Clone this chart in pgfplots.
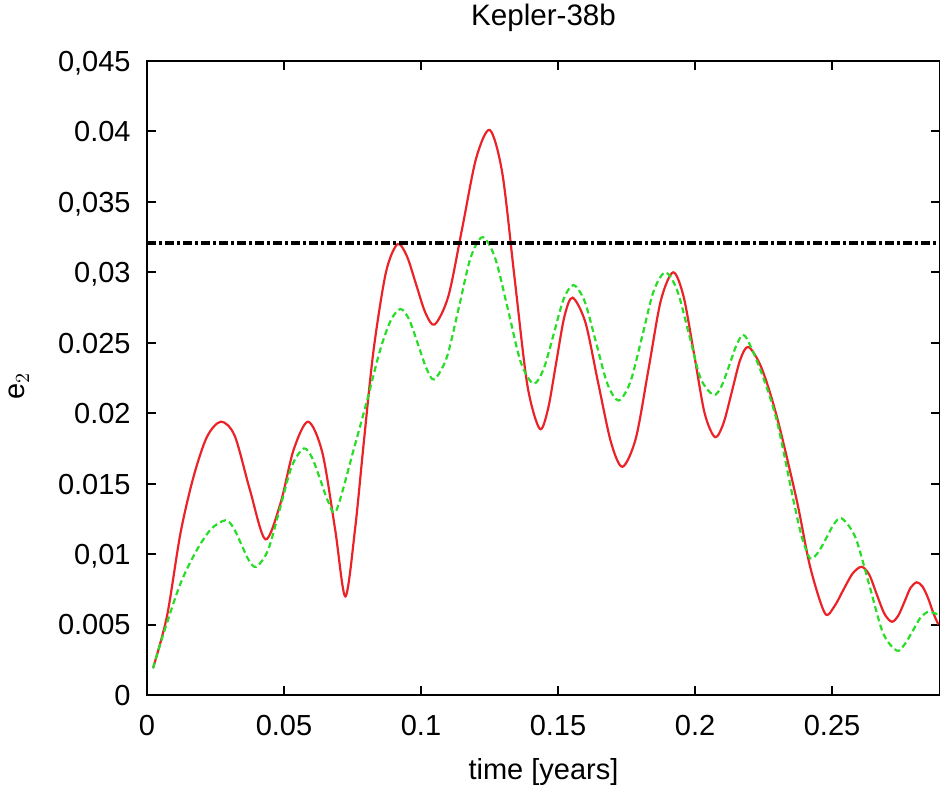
\documentclass[border=0pt]{standalone}
\usepackage{pgfplots}
\pgfplotsset{compat=1.18}
\usepackage{fontspec}
\setmainfont{Liberation Sans}
\definecolor{gred}{RGB}{235,35,40}
\definecolor{ggreen}{RGB}{40,220,40}
\pgfplotstableread{
x y
0.0022 0.0019
0.0073 0.0056
0.0122 0.01147
0.0170 0.0155
0.0219 0.01833
0.0270 0.0194
0.0320 0.0184
0.0375 0.0146
0.0432 0.01105
0.0487 0.0136
0.0535 0.0174
0.0588 0.0194
0.0640 0.0172
0.0687 0.0117
0.0724 0.0070
0.0760 0.0119
0.0791 0.0179
0.0827 0.0245
0.0872 0.0300
0.0914 0.0320
0.0948 0.03117
0.0982 0.02915
0.1016 0.02713
0.1050 0.0263
0.1100 0.02832
0.1151 0.0332
0.1201 0.03808
0.1251 0.0401
0.1297 0.0370
0.1342 0.0295
0.1388 0.0220
0.1433 0.0189
0.1463 0.02026
0.1493 0.02355
0.1523 0.02684
0.1553 0.0282
0.1600 0.02644
0.1646 0.0222
0.1693 0.01796
0.1735 0.0162
0.1784 0.01822
0.1830 0.0231
0.1875 0.02798
0.1920 0.0300
0.1958 0.0283
0.1997 0.02415
0.2035 0.0200
0.2073 0.0183
0.2104 0.0193
0.2134 0.0215
0.2165 0.0238
0.2195 0.0247
0.2243 0.0232
0.2298 0.0198
0.2371 0.01384
0.2420 0.0091
0.2474 0.0058
0.2508 0.00628
0.2541 0.00745
0.2575 0.00862
0.2608 0.0091
0.2636 0.00853
0.2663 0.00715
0.2691 0.00577
0.2718 0.0052
0.2741 0.00561
0.2764 0.0066
0.2786 0.00759
0.2809 0.0080
0.2830 0.0077
0.2850 0.0069
0.2870 0.0058
0.2888 0.0050
}\redtab
\pgfplotstableread{
x y
0.0022 0.0019
0.0061 0.0044
0.0122 0.0079
0.0182 0.0103
0.0235 0.0118
0.0286 0.0124
0.0314 0.01192
0.0343 0.01075
0.0371 0.00958
0.0399 0.0091
0.0442 0.0103
0.0486 0.0133
0.0529 0.01627
0.0572 0.0175
0.0602 0.01686
0.0632 0.0153
0.0661 0.01374
0.0691 0.0131
0.0754 0.0174
0.0803 0.0209
0.0851 0.0245
0.0890 0.0266
0.0925 0.0274
0.0956 0.02668
0.0988 0.02495
0.1019 0.02322
0.1048 0.0224
0.1094 0.02396
0.1138 0.0275
0.1181 0.03104
0.1225 0.0325
0.1271 0.03098
0.1318 0.0273
0.1364 0.02362
0.1410 0.0221
0.1447 0.02312
0.1484 0.0256
0.1520 0.02808
0.1557 0.0291
0.1598 0.0279
0.1639 0.0250
0.1680 0.0221
0.1721 0.0209
0.1764 0.02223
0.1807 0.02545
0.1849 0.02867
0.1892 0.0300
0.1935 0.02871
0.1978 0.0256
0.2020 0.02249
0.2067 0.0213
0.2096 0.0219
0.2125 0.0234
0.2153 0.0249
0.2182 0.0255
0.2240 0.0230
0.2298 0.0195
0.2359 0.01384
0.2390 0.0112
0.2420 0.0097
0.2449 0.01012
0.2478 0.0111
0.2506 0.0121
0.2535 0.01254
0.2585 0.0112
0.2636 0.0078
0.2686 0.0044
0.2736 0.00315
0.2765 0.0036
0.2794 0.00453
0.2823 0.0055
0.2852 0.0059
0.2888 0.0057
}\greentab
\begin{document}
\begin{tikzpicture}
\useasboundingbox (-73.5pt,-48.5pt) rectangle (396.5pt,347.5pt);
\begin{axis}[
  at={(0,0)}, anchor=south west,
  scale only axis, width=396.5pt, height=317pt,
  xmin=0, xmax=0.2894, ymin=0, ymax=0.045,
  axis line style={line width=1.2pt},
  every tick/.style={black, line width=1pt},
  tick align=inside, major tick length=4.5pt,
  xtick={0,0.05,0.1,0.15,0.2,0.25},
  xticklabels={0,0.05,0.1,0.15,0.2,0.25},
  ytick={0,0.005,0.01,0.015,0.02,0.025,0.03,0.035,0.04,0.045},
  yticklabels={0,0.005,{0,01},0.015,0.02,0.025,{0,03},{0,035},0.04,{0,045}},
  scaled ticks=false,
  tick label style={font=\fontsize{14.5}{17}\selectfont},
  xticklabel style={anchor=base, yshift=-20pt},
  yticklabel style={anchor=base east, inner sep=0pt, xshift=-8pt, yshift=-5.2pt},
  title={Kepler-38b},
  title style={font=\fontsize{14.8}{17}\selectfont, at={(axis description cs:0.5,1)}, anchor=base, yshift=11.5pt},
  xlabel={time [years]},
  xlabel style={font=\fontsize{14.5}{17}\selectfont, at={(axis description cs:0.5,0)}, anchor=base, yshift=-42pt},
  ylabel={e$_2$},
  ylabel style={font=\fontsize{14.5}{17}\selectfont, at={(axis description cs:-0.154,0.487)}, anchor=base, rotate=0},
  clip=true,
]
\addplot[gred, line width=1.1pt, smooth, tension=0.5] table {\redtab};
\addplot[ggreen, line width=1.1pt, smooth, tension=0.5, dash pattern=on 3pt off 1.8pt] table {\greentab};
\addplot[black, line width=2.2pt, dash pattern=on 4.5pt off 1.5pt on 1.5pt off 1.5pt] coordinates {(0,0.0321) (0.2894,0.0321)};
\end{axis}
\end{tikzpicture}
\end{document}
